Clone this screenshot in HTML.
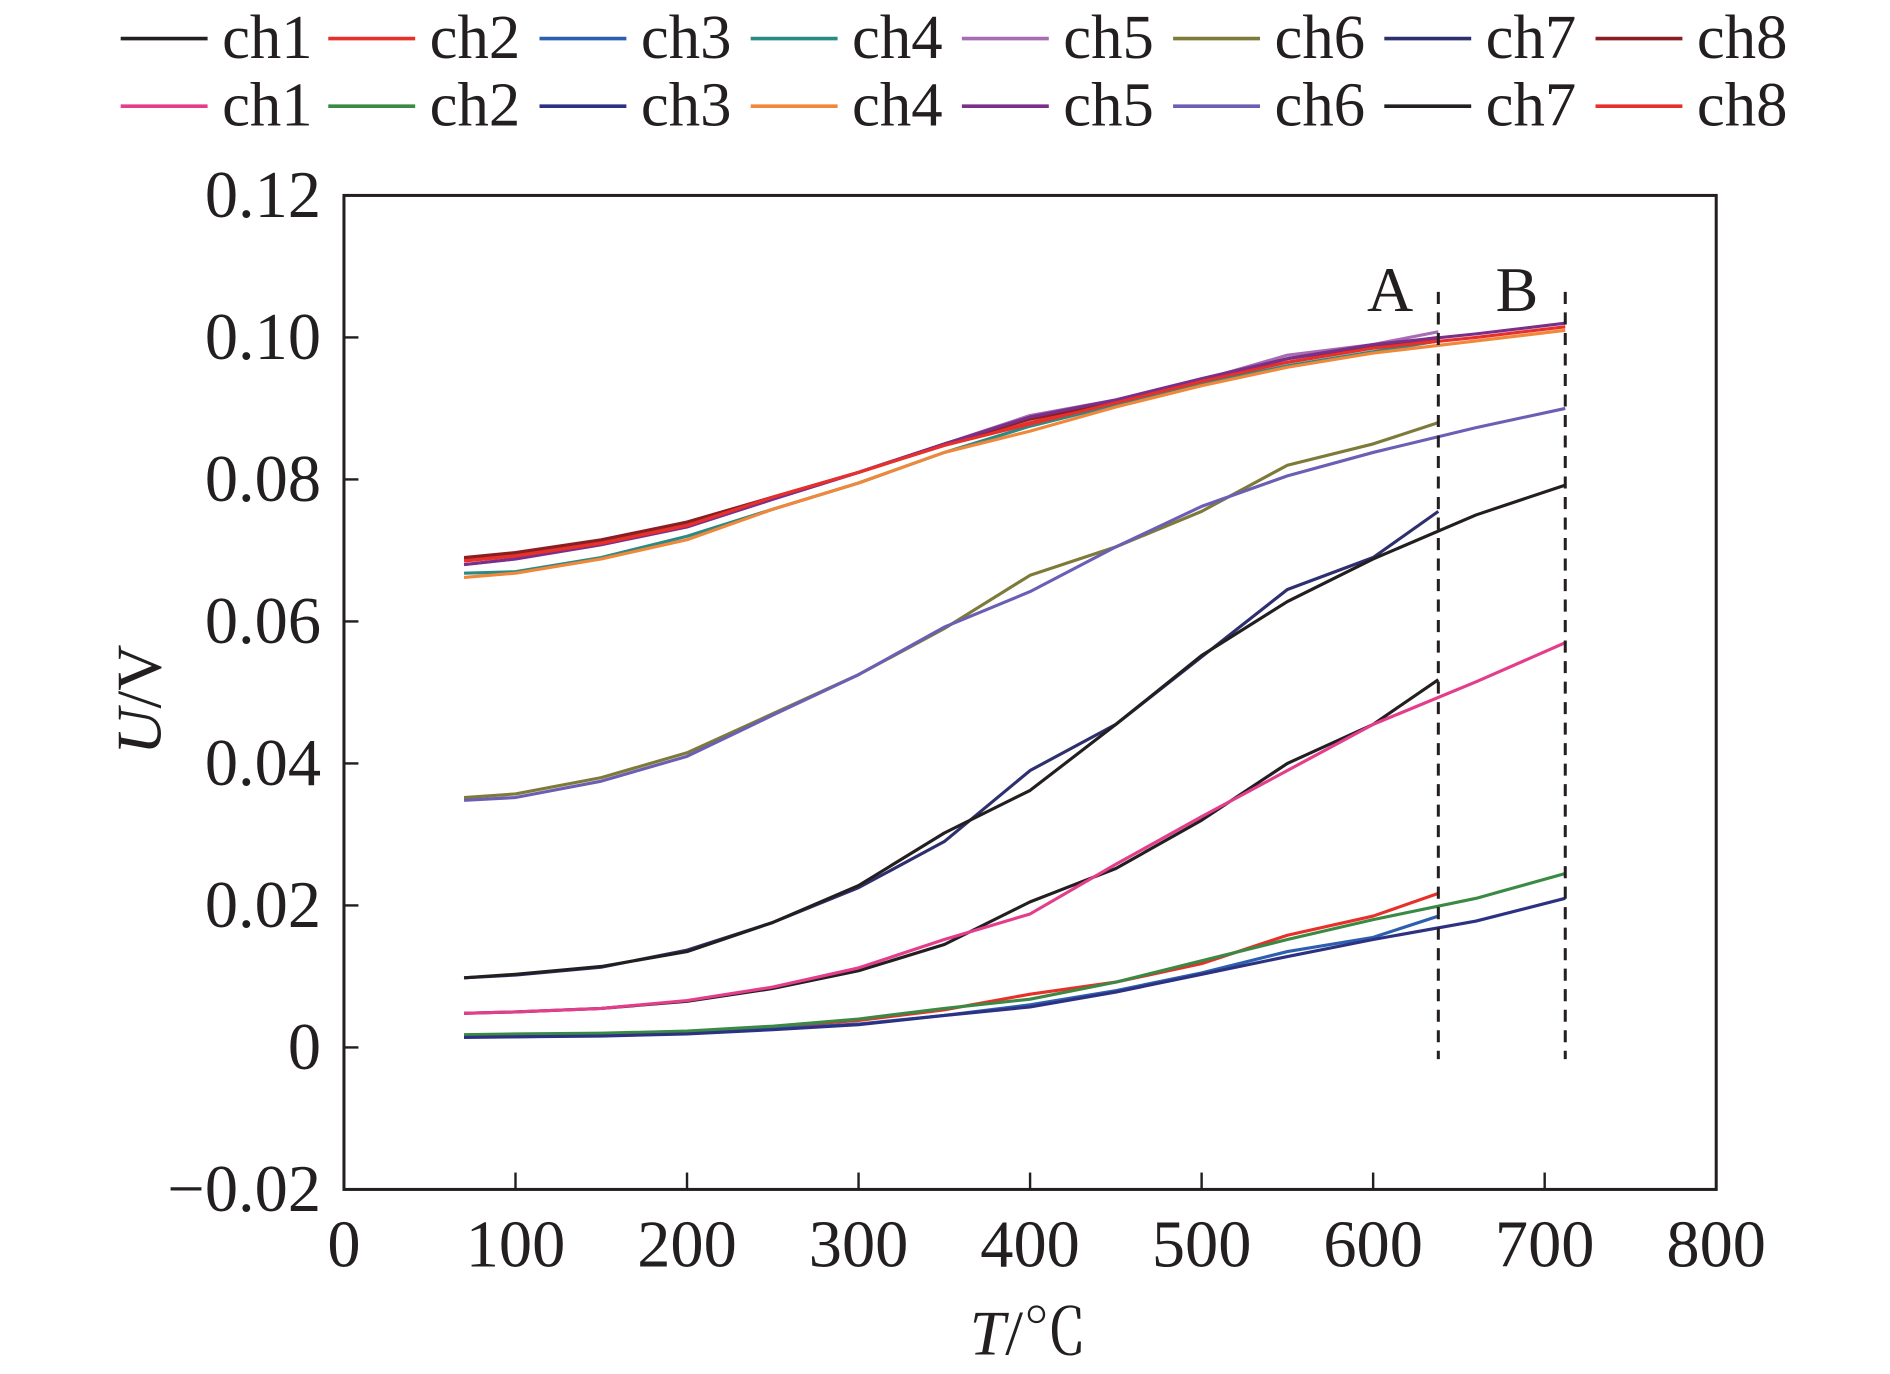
<!DOCTYPE html>
<html><head><meta charset="utf-8"><style>
html,body{margin:0;padding:0;background:#fff;}
svg{display:block;}
text{font-family:"Liberation Serif","Noto Serif CJK SC",serif;fill:#231f20;}
</style></head><body>
<svg id="chart" width="1890" height="1374" viewBox="0 0 1566 1139" preserveAspectRatio="none" xmlns="http://www.w3.org/2000/svg">
<g id="legend"></g>
<rect x="285" y="162" width="1137" height="824" fill="none" stroke="#231f20" stroke-width="2.5"/>
<g id="ticks"></g>
<g id="series"></g>
<g id="marks"></g>
<text x="852" y="1123" font-size="53" text-anchor="middle"><tspan font-style="italic">T</tspan>/℃</text>
<text transform="translate(133,580) rotate(-90)" font-size="53" text-anchor="middle"><tspan font-style="italic">U</tspan>/V</text>
</svg>
<script>
const xTicks=[0,100,200,300,400,500,600,700,800];
const yTicks=[-0.02,0,0.02,0.04,0.06,0.08,0.10,0.12];
const yTickLabels=["\u22120.02","0","0.02","0.04","0.06","0.08","0.10","0.12"];
const tempsA=[70,100,150,200,250,300,350,400,450,500,550,600,638];
const tempsB=[70,100,150,200,250,300,350,400,450,500,550,600,660,712];
const markerNames=["A","B"];
const markerTemps=[638,712];
const seriesNames=["ch1","ch2","ch3","ch4","ch5","ch6","ch7","ch8","ch1","ch2","ch3","ch4","ch5","ch6","ch7","ch8"];
const seriesColors=["#231f20","#e8302a","#2c5fad","#2a8a84","#a86cb4","#7e7a3a","#2e2f6e","#8a1f23","#e43d8b","#3a8a45","#2c3183","#f0873a","#7a2f8a","#6a5fb4","#231f20","#e8302a"];
const s1a=[0.0048,0.005,0.0055,0.0065,0.0083,0.0108,0.0145,0.0205,0.0252,0.032,0.040,0.0455,0.0518];
const s2a=[0.0688,0.0695,0.0712,0.0738,0.0775,0.081,0.0848,0.088,0.091,0.094,0.0965,0.0985,0.0998];
const s3a=[0.0015,0.0015,0.0017,0.002,0.0026,0.0033,0.0045,0.006,0.008,0.0105,0.0135,0.0155,0.0185];
const s4a=[0.0668,0.067,0.069,0.072,0.0758,0.0795,0.0838,0.0875,0.0905,0.0935,0.096,0.098,0.0995];
const s5a=[0.068,0.0688,0.0708,0.0735,0.0772,0.081,0.085,0.089,0.0912,0.094,0.0975,0.099,0.1008];
const s6a=[0.0352,0.0357,0.038,0.0415,0.047,0.0525,0.059,0.0665,0.0705,0.0755,0.082,0.085,0.088];
const s7a=[0.0098,0.0102,0.0113,0.0137,0.0176,0.0225,0.029,0.039,0.0455,0.055,0.0645,0.069,0.0755];
const s8a=[0.069,0.0697,0.0715,0.074,0.0775,0.081,0.085,0.0885,0.091,0.094,0.097,0.0988,0.1];
const s2aLow=[0.0017,0.0018,0.0019,0.0022,0.0029,0.0038,0.0053,0.0075,0.0092,0.0118,0.0158,0.0185,0.0217];
const s1b=[0.0048,0.005,0.0055,0.0066,0.0085,0.0112,0.0152,0.0188,0.0258,0.0325,0.039,0.0455,0.0515,0.057];
const s2b=[0.0018,0.0019,0.002,0.0023,0.003,0.004,0.0055,0.0068,0.0092,0.0122,0.0152,0.018,0.021,0.0245];
const s3b=[0.0014,0.0015,0.0016,0.0019,0.0025,0.0032,0.0045,0.0057,0.0078,0.0103,0.0128,0.0152,0.0178,0.021];
const s4b=[0.0662,0.0668,0.0688,0.0715,0.0758,0.0795,0.0838,0.0868,0.0902,0.0932,0.0958,0.0978,0.0995,0.101];
const s5b=[0.068,0.0688,0.0708,0.0733,0.0772,0.081,0.085,0.0888,0.0912,0.0942,0.097,0.099,0.1005,0.102];
const s6b=[0.0348,0.0352,0.0375,0.041,0.0468,0.0525,0.0592,0.0642,0.0705,0.0762,0.0805,0.0838,0.0873,0.090];
const s7b=[0.0098,0.0103,0.0114,0.0135,0.0176,0.0228,0.0302,0.0362,0.0455,0.0552,0.0628,0.0688,0.075,0.0792];
const s8b=[0.0685,0.0692,0.071,0.0735,0.0775,0.081,0.0848,0.0878,0.0908,0.0938,0.0965,0.0985,0.1,0.1015];

const NS="http://www.w3.org/2000/svg";
function xs(v){return 285+(v-0)/800*1137;}
function ys(v){return 986-(v+0.02)/0.14*824;}
function mk(tag,parent){const e=document.createElementNS(NS,tag);parent.appendChild(e);return e;}

const ticks=document.getElementById('ticks');
xTicks.forEach(v=>{
  if(v>0&&v<800){const l=mk('line',ticks);
  
  
  l.setAttribute('x1',xs(v));l.setAttribute('x2',xs(v));l.setAttribute('y1',986);l.setAttribute('y2',972);
  l.setAttribute('stroke','#231f20');l.setAttribute('stroke-width','2');}
  const t=mk('text',ticks);
  
  
  t.setAttribute('x',xs(v));t.setAttribute('y',1050);t.setAttribute('font-size','55');t.setAttribute('text-anchor','middle');
  t.textContent=String(v);
});
yTicks.forEach((v,i)=>{
  if(i>0&&i<yTicks.length-1){const l=mk('line',ticks);
  
  
  l.setAttribute('x1',285);l.setAttribute('x2',297);l.setAttribute('y1',ys(v));l.setAttribute('y2',ys(v));
  l.setAttribute('stroke','#231f20');l.setAttribute('stroke-width','2');}
  const t=mk('text',ticks);
  
  
  t.setAttribute('x',266);t.setAttribute('y',ys(v)+18);t.setAttribute('font-size','55');t.setAttribute('text-anchor','end');
  t.textContent=yTickLabels[i];
});

const seriesData=[s1a,s2aLow,s3a,s4a,s5a,s6a,s7a,s8a,s1b,s2b,s3b,s4b,s5b,s6b,s7b,s8b];
const g=document.getElementById('series');
function drawLine(temps,vals,color,name){
  const p=mk('polyline',g);
  
  
  p.setAttribute('points',temps.map((t,i)=>xs(t)+','+ys(vals[i])).join(' '));
  p.setAttribute('fill','none');p.setAttribute('stroke',color);p.setAttribute('stroke-width','2.6');p.setAttribute('stroke-linejoin','round');
}
drawLine(tempsA,s2a,"#e8302a","series-ch2-a-upper");
seriesData.forEach((d,i)=>{
  drawLine(i<8?tempsA:tempsB,d,seriesColors[i],'series-'+seriesNames[i]+(i<8?'-a':'-b'));
});

const m=document.getElementById('marks');
markerTemps.forEach((t,i)=>{
  const l=mk('line',m);
  
  
  l.setAttribute('x1',xs(t));l.setAttribute('x2',xs(t));l.setAttribute('y1',242);l.setAttribute('y2',878);
  l.setAttribute('stroke','#231f20');l.setAttribute('stroke-width','2.5');l.setAttribute('stroke-dasharray','10,7');
  const tx=mk('text',m);
  
  
  tx.setAttribute('x',xs(t)-40);tx.setAttribute('y',258);tx.setAttribute('font-size','53');tx.setAttribute('text-anchor','middle');
  tx.textContent=markerNames[i];
});

const lg=document.getElementById('legend');
const legX=[100,272,447,622,797,972,1147,1322];
seriesNames.forEach((n,i)=>{
  const col=i%8,row=Math.floor(i/8);
  const y=row?88:32;
  const l=mk('line',lg);
  
  
  l.setAttribute('x1',legX[col]);l.setAttribute('x2',legX[col]+72);l.setAttribute('y1',y);l.setAttribute('y2',y);
  l.setAttribute('stroke',seriesColors[i]);l.setAttribute('stroke-width','3');
  const t=mk('text',lg);
  
  
  t.setAttribute('x',legX[col]+84);t.setAttribute('y',y+16);t.setAttribute('font-size','52');
  t.textContent=n;
});
</script>
</body></html>
